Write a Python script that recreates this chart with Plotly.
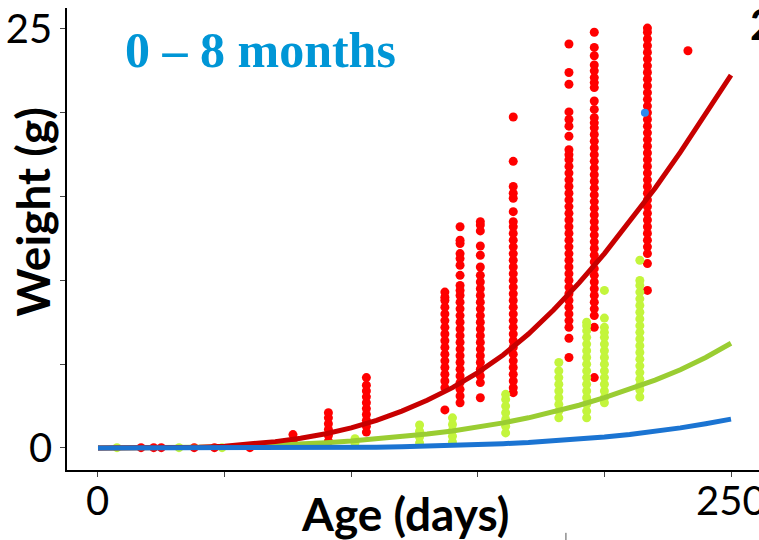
import plotly.graph_objects as go

# ---------------- data ----------------
curve_age = [0, 10, 20, 30, 40, 50, 60, 70, 80, 90, 100, 110, 120, 130, 140, 150,
             160, 170, 180, 190, 200, 210, 220, 230, 240, 250]
red_fit = [0, 0, 0.005, 0.02, 0.05, 0.11, 0.22, 0.38, 0.58, 0.85, 1.2, 1.65, 2.2, 2.85,
           3.6, 4.5, 5.55, 6.8, 8.25, 9.85, 11.6, 13.5, 15.5, 17.65, 19.9, 22.25]
green_fit = [0, 0, 0, 0.01, 0.03, 0.06, 0.1, 0.16, 0.23, 0.32, 0.42, 0.54, 0.68, 0.84,
             1.02, 1.24, 1.5, 1.8, 2.15, 2.55, 3.0, 3.5, 4.05, 4.67, 5.4, 6.25]
blue_fit = [0, 0, 0, 0, 0, 0, 0, 0, 0.01, 0.02, 0.03, 0.05, 0.08, 0.11, 0.15, 0.2,
            0.26, 0.33, 0.42, 0.52, 0.65, 0.8, 0.98, 1.2, 1.45, 1.72]

# red observations (age -> weights)
red_small_ages = [17, 22, 25, 38, 46, 60]
red_small_w = [0.02, 0.02, 0.02, 0.02, 0.02, 0.02]
red_77 = [0.4, 0.8]
red_91 = [0.4, 0.75, 1.1, 1.45, 1.8, 2.1]
red_106 = [0.95, 1.3, 1.65, 2.0, 2.35, 2.7, 3.05, 3.4, 3.75, 4.2]
red_137 = [2.27, 3.6, 4.0, 4.4, 4.8, 5.2, 5.6, 6.0, 6.4, 6.8, 7.2, 7.6, 8.0, 8.4, 8.8, 9.0, 9.3]
red_143 = [2.7, 3.1, 3.5, 3.9, 4.3, 4.7, 5.1, 5.5, 5.9, 6.3, 6.7, 7.1, 7.5, 7.9, 8.3, 8.7,
           9.1, 9.4, 9.7, 10.3, 10.9, 11.3, 11.6, 12.2, 12.4, 13.2]
red_151 = [3.0, 3.9, 4.3, 4.7, 5.1, 5.5, 5.9, 6.3, 6.7, 7.1, 7.5, 7.9, 8.3, 8.7, 9.1, 9.5,
           9.9, 10.3, 10.8, 11.5, 12.05, 12.95, 13.3, 13.5]
red_164 = [3.3, 3.6, 4.0, 4.4, 4.8, 5.2, 5.6, 6.0, 6.4, 6.8, 7.2, 7.6, 8.0, 8.4, 8.8, 9.2,
           9.6, 10.0, 10.4, 10.8, 11.2, 11.6, 12.0, 12.4, 12.8, 13.2, 13.5, 14.1, 14.9,
           15.2, 15.6, 17.1, 19.75]
red_186 = [5.4, 6.55, 7.2, 7.6, 8.0, 8.4, 8.8, 9.2, 9.6, 10.0, 10.4, 10.8, 11.2, 11.6,
           12.0, 12.4, 12.8, 13.2, 13.6, 14.0, 14.4, 14.8, 15.2, 15.6, 16.0, 16.4, 16.8,
           17.2, 17.5, 17.8, 18.6, 19.2, 19.6, 20.05, 21.7, 22.4, 24.1]
red_196 = [4.2, 7.2, 7.9, 8.3, 8.7, 9.1, 9.5, 9.9, 10.3, 10.7, 11.1, 11.5, 11.9, 12.3,
           12.7, 13.1, 13.5, 13.9, 14.3, 14.7, 15.1, 15.5, 15.9, 16.3, 16.7, 17.1, 17.5,
           17.9, 18.3, 18.7, 19.1, 19.4, 19.7, 20.2, 20.7, 21.5, 21.8, 22.1, 22.5, 22.85,
           23.4, 23.9, 24.8]
red_217 = [9.4, 11.0, 11.6, 12.0, 12.4, 12.8, 13.2, 13.6, 14.0, 14.4, 14.8, 15.2, 15.6,
           16.0, 16.4, 16.8, 17.2, 17.6, 18.0, 18.4, 18.8, 19.2, 19.6, 20.0, 20.4, 20.8,
           21.2, 21.6, 22.0, 22.4, 22.8, 23.2, 23.6, 24.0, 24.4, 24.8, 25.05]
red_233 = [23.7]

# green observations
green_small_ages = [7.5, 32, 49]
green_small_w = [0.02, 0.02, 0.02]
green_101 = [0.3, 0.55]
green_127 = [0.3, 0.65, 1.0, 1.37]
green_140 = [0.36, 0.7, 1.05, 1.4, 1.8]
green_161 = [0.9, 1.3, 1.7, 2.1, 2.5, 2.9, 3.2]
green_182 = [1.8, 2.2, 2.6, 3.0, 3.4, 3.8, 4.2, 4.6, 5.1]
green_193 = [1.8, 2.2, 2.6, 3.0, 3.4, 3.8, 4.2, 4.6, 5.0, 5.4, 5.8, 6.2, 6.6, 7.0, 7.3, 7.5]
green_200 = [2.7, 3.0, 3.4, 3.8, 4.2, 4.6, 5.0, 5.4, 5.8, 6.2, 6.6, 6.9, 7.2, 7.75, 9.4]
green_214 = [3.04, 3.46, 3.75, 4.1, 4.5, 4.9, 5.3, 5.7, 6.1, 6.5, 6.9, 7.3, 7.7, 8.1,
             8.5, 8.9, 9.3, 9.7, 10.0, 11.2]

# blue observation
blue_age = [216]
blue_w = [20.0]

x_tick_vals = [0, 50, 100, 150, 200, 250]
x_label_vals = [0, 250]
x_label_text = ["0", "250"]
y_tick_vals = [0, 5, 10, 15, 20, 25]
y_tick_text = ["0", "", "", "", "", "25"]

# ---------------- build ----------------
red_cols = [(77, red_77), (91, red_91), (106, red_106), (137, red_137), (143, red_143),
            (151, red_151), (164, red_164), (186, red_186), (196, red_196),
            (217, red_217), (233, red_233)]
green_cols = [(101.5, green_101), (127, green_127), (140, green_140), (161, green_161),
              (182, green_182), (193, green_193), (200, green_200), (214, green_214)]

rx, ry = list(red_small_ages), list(red_small_w)
for a, ws in red_cols:
    rx += [a] * len(ws)
    ry += ws
gx, gy = list(green_small_ages), list(green_small_w)
for a, ws in green_cols:
    gx += [a] * len(ws)
    gy += ws

fig = go.Figure()
fig.add_trace(go.Scatter(x=rx, y=ry, mode="markers",
                         marker=dict(color="#FF0000", size=9, line=dict(width=0))))
fig.add_trace(go.Scatter(x=gx, y=gy, mode="markers",
                         marker=dict(color="#C3F53C", size=9, line=dict(width=0))))
fig.add_trace(go.Scatter(x=blue_age, y=blue_w, mode="markers",
                         marker=dict(color="#2B8CF0", size=8, line=dict(width=0))))
fig.add_trace(go.Scatter(x=curve_age, y=green_fit, mode="lines",
                         line=dict(color="#9ACD32", width=5)))
fig.add_trace(go.Scatter(x=curve_age, y=red_fit, mode="lines",
                         line=dict(color="#C80000", width=5)))
fig.add_trace(go.Scatter(x=curve_age, y=blue_fit, mode="lines",
                         line=dict(color="#1B74D2", width=5)))

tick_font = dict(family="Lato, sans-serif", size=40, color="black")
title_font = dict(family="Lato, sans-serif", size=46, color="black", weight="bold")

annotations = [
    dict(text="0 – 8 months", xref="paper", yref="paper", x=0.081, y=0.909,
         xanchor="left", yanchor="middle", showarrow=False,
         font=dict(family="Liberation Serif", size=50, color="#0096D6", weight="bold")),
    dict(text="Weight (g)", xref="paper", yref="paper", x=-0.05, y=0.56,
         xanchor="center", yanchor="middle", showarrow=False, textangle=-90,
         font=title_font),
    dict(text="Age (days)", xref="paper", yref="paper", x=0.489, y=-0.094,
         xanchor="center", yanchor="middle", showarrow=False, font=title_font),
    dict(text="2", xref="paper", yref="paper", x=0.984, y=0.965,
         xanchor="left", yanchor="middle", showarrow=False,
         font=dict(family="Lato, sans-serif", size=42, color="black", weight="bold")),
]
for v, t in zip(x_label_vals, x_label_text):
    annotations.append(dict(text=t, xref="x", yref="paper", x=v, y=-0.065,
                            xanchor="center", yanchor="middle", showarrow=False,
                            font=tick_font))

fig.update_layout(
    width=759, height=540,
    margin=dict(l=67, r=0, t=8, b=70),
    paper_bgcolor="white", plot_bgcolor="white",
    showlegend=False,
    xaxis=dict(range=[-12.24, 261.06], showgrid=False, zeroline=False,
               showline=True, linecolor="black", linewidth=1.5,
               ticks="outside", ticklen=5, tickcolor="#444", tickwidth=1,
               tickvals=x_tick_vals, showticklabels=False),
    yaxis=dict(range=[-1.313, 26.25], showgrid=False, zeroline=False,
               showline=True, linecolor="black", linewidth=1.5,
               ticks="outside", ticklen=5, tickcolor="#444", tickwidth=1,
               tickvals=y_tick_vals, ticktext=y_tick_text, tickfont=tick_font),
    annotations=annotations,
    shapes=[dict(type="line", xref="paper", yref="paper", x0=0.721, x1=0.721,
                 y0=-0.136, y1=-0.16, line=dict(color="#555", width=1))],
)

fig.write_html("out.html")
